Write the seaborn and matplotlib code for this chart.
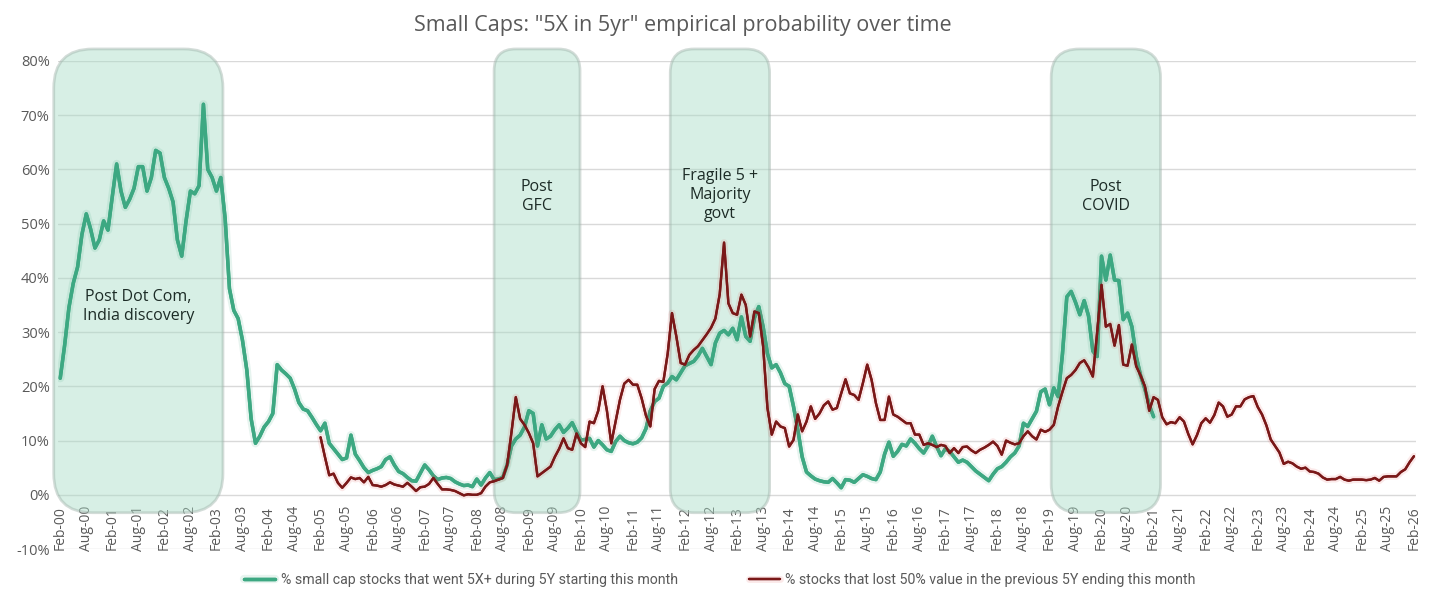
import numpy as np
import pandas as pd
import seaborn as sns
import matplotlib.pyplot as plt
import matplotlib.patheffects as pe
from matplotlib.patches import FancyBboxPatch

# Meses Feb-00 .. Feb-26
meses = pd.date_range("2000-02-01", "2026-02-01", freq="MS")

# % small caps que hicieron 5X+ en los 5 años siguientes (Feb-00 .. Feb-21)
verde = [
    21.5, 27.5, 34.5, 39, 42, 48, 51.8, 49, 45.5, 47, 50.5, 48.8,
    55, 61, 56, 53, 54.5, 56.5, 60.5, 60.5, 56, 58.5, 63.5, 63,
    58.5, 56.5, 54, 47, 44, 50.5, 56, 55.5, 57, 72, 60, 58.5,
    56, 58.5, 51, 38, 34, 32.5, 28.5, 23, 14, 9.5, 10.8, 12.5,
    13.5, 15, 24, 23, 22.3, 21.5, 19.5, 17, 15.8, 15.5, 14.3, 13,
    11.8, 13.2, 9.5, 8.5, 7.5, 6.5, 6.8, 11, 7.5, 6.3, 5, 4.1,
    4.5, 4.8, 5.2, 6.5, 7, 5.5, 4.3, 3.9, 3.2, 2.6, 2.5, 4,
    5.5, 4.6, 3.5, 2.8, 3.1, 3.2, 3, 2.4, 2, 1.7, 1.8, 1.5,
    2.9, 1.8, 3.1, 4.1, 2.8, 2.9, 3.2, 5.5, 9, 10.3, 11, 12.5,
    15.5, 15, 9, 12.9, 10.3, 10.8, 12, 12.9, 11.5, 12.3, 13.3, 11.6,
    10.1, 10.2, 10.4, 8.8, 10, 9.2, 8.3, 8, 9.8, 10.8, 10, 9.6,
    9.4, 9.7, 10.5, 12.2, 15.5, 17.2, 17.8, 20, 20.6, 21.8, 21.2, 22.5,
    23.8, 24.2, 24.6, 25.6, 27, 25.5, 24, 28, 29.8, 30.3, 29.5, 30.7,
    28.6, 32.8, 29.2, 28.3, 32.6, 34.7, 31, 26, 23.4, 24, 22.5, 20.5,
    20, 16.3, 12, 7, 4.2, 3.5, 2.9, 2.6, 2.4, 2.3, 3, 2.2,
    1.3, 2.8, 2.7, 2.3, 3, 3.7, 3.4, 3, 2.8, 4.2, 7.5, 9.7,
    7.1, 8, 9.3, 9, 10.3, 9.5, 8.5, 7.7, 9, 10.8, 8.9, 7.2,
    8.5, 8, 7, 6, 6.4, 6, 5.2, 4.4, 3.8, 3.2, 2.6, 3.8,
    4.8, 5.2, 6, 7, 7.7, 9, 13.2, 12.6, 14, 15.4, 19, 19.5,
    16.6, 19.7, 18.1, 26, 36.5, 37.5, 35.5, 33.2, 35.8, 33, 26.5, 25.5,
    44, 39.6, 44.2, 39.6, 39.5, 32.3, 33.5, 31, 25.5, 22, 19.5, 16.5, 14.4,
]

# % acciones que perdieron 50% en los 5 años previos (Feb-05 .. Feb-26)
rojo = [
    10.6, 7, 3.6, 3.9, 2.2, 1.3, 2.2, 3.2, 2.9, 3.1, 2.3, 3.3,
    1.8, 1.7, 1.5, 1.8, 2.3, 1.9, 1.7, 1.5, 2.2, 1.5, 0.7, 1.4,
    1.5, 2, 3.1, 2, 1, 1, 0.9, 0.7, 0.3, -0.1, 0.1, 0,
    0, 0.3, 1.5, 2.3, 2.5, 2.8, 3.1, 5.5, 11.5, 18, 14, 12.9,
    11.4, 9.5, 3.4, 4, 4.6, 5.2, 7, 8.5, 10.4, 8.6, 8.3, 11.3,
    9.5, 8.8, 13.5, 13.2, 15.5, 20, 15.5, 9.5, 13.5, 17.5, 20.5, 21.2,
    20.3, 20.3, 17.8, 14.6, 12.6, 19.5, 21, 20.8, 26, 33.5, 29.2, 24.3,
    24, 25.8, 26.7, 27.4, 28.5, 29.6, 30.8, 32.5, 37, 46.5, 35.3, 33.5,
    33.2, 36.9, 35, 29.2, 33.8, 33.5, 27.4, 16, 11.1, 13.5, 12.6, 12.3,
    8.9, 10.1, 14.8, 11.7, 13.5, 16.3, 14, 15, 16.5, 17.2, 15.7, 16,
    18.7, 21.3, 18.7, 18.4, 17.5, 20.6, 24, 21.2, 16.9, 13.8, 13.8, 18.1,
    14.8, 14.4, 13.8, 13.2, 13.2, 11.1, 11.1, 9.2, 9.5, 9.2, 8.8, 9.2,
    9, 7.7, 8.6, 7.7, 8.8, 8.9, 8.2, 7.7, 8.3, 8.7, 9.2, 9.8,
    9, 7.4, 10, 9.6, 9.3, 9.5, 10.8, 11.7, 10.8, 10.2, 12, 11.6,
    12, 12.9, 16.3, 19, 21.5, 22.1, 23, 24.3, 24.8, 23.5, 21.8, 30,
    38.7, 31, 31.5, 27.5, 31.3, 24, 23.8, 27.7, 23.7, 22, 20, 15.5,
    18, 17.5, 14.3, 13, 13.4, 13.2, 14.3, 13.5, 11.2, 9.3, 11, 13.2,
    14.1, 13.3, 14.7, 17, 16.3, 14.4, 14.8, 16.3, 16.3, 17.6, 18, 18.2,
    16.2, 14.8, 12.8, 10.2, 9, 7.8, 5.7, 6.1, 5.8, 5.2, 4.8, 5,
    4.3, 4.2, 3.9, 3.2, 2.8, 2.9, 2.9, 3.3, 2.8, 2.6, 2.8, 2.8,
    2.8, 2.7, 2.8, 3.1, 2.6, 3.3, 3.4, 3.4, 3.4, 4.2, 4.7, 6, 7.1,
]
inicio_rojo = 60  # Feb-05

# Periodos resaltados: (mes inicial, mes final, texto, y del texto)
periodos = [
    (-1.5, 37.5, "Post Dot Com,\nIndia discovery", 34.7),
    (100.0, 119.8, "Post\nGFC", 55.0),
    (140.6, 163.5, "Fragile 5 +\nMajority\ngovt", 55.3),
    (228.4, 253.6, "Post\nCOVID", 55.0),
]
radios = [9, 5, 5.5, 6.5]

nombre_verde = "% small cap stocks that went 5X+ during 5Y starting this month"
nombre_rojo = "% stocks that lost 50% value in the previous 5Y ending this month"
col_verde = "#3da882"
col_rojo = "#7a1818"
gris = "#595959"

df_v = pd.DataFrame({"mes": np.arange(len(verde)), "valor": verde})
df_r = pd.DataFrame({"mes": np.arange(inicio_rojo, inicio_rojo + len(rojo)), "valor": rojo})

sns.set_theme(style="white")
plt.rcParams["font.family"] = ["Open Sans", "DejaVu Sans"]

fig = plt.figure(figsize=(14.34, 6.06), dpi=100)
ax = fig.add_axes([0.0405, 0.094, 0.947, 0.8055])

# cajas redondeadas
aspecto = 4.34 / 5.425
for (x0, x1, texto, ty), r in zip(periodos, radios):
    caja = FancyBboxPatch((x0, -3.3), x1 - x0, 85.5,
                          boxstyle=f"round,pad=0,rounding_size={r}",
                          mutation_aspect=aspecto,
                          facecolor="#a8dcc6", alpha=0.45,
                          edgecolor="#9fb3aa", linewidth=2.0,
                          clip_on=False, zorder=1)
    ax.add_patch(caja)
    ax.text((x0 + x1) / 2, ty, texto, ha="center", va="center",
            fontsize=11.5, color="#1c2b26", linespacing=1.25, zorder=5)

sns.lineplot(data=df_v, x="mes", y="valor", ax=ax, color=col_verde,
             linewidth=2.5, label=nombre_verde, zorder=3)
sns.lineplot(data=df_r, x="mes", y="valor", ax=ax, color=col_rojo,
             linewidth=1.7, label=nombre_rojo, zorder=4)
ax.lines[0].set_path_effects([pe.withStroke(linewidth=6, foreground=col_verde, alpha=0.12), pe.Normal()])
ax.lines[1].set_path_effects([pe.withStroke(linewidth=5, foreground="#e05050", alpha=0.12), pe.Normal()])

# eje x cruzando en 0% (antes de fijar ticks, porque reinicia el eje)
ax.spines["bottom"].set_position(("data", 0))
for s in ax.spines.values():
    s.set_visible(False)

ax.set_xlim(-0.5, len(meses) - 0.5)
ax.set_ylim(-10, 80)
ax.set_yticks(np.arange(-10, 81, 10))
ax.set_yticklabels([f"{v}%" for v in range(-10, 81, 10)], color=gris, fontsize=10.5)
ax.yaxis.grid(True, color="#d9d9d9", linewidth=1)
ax.set_axisbelow(True)

pos = np.arange(0, len(meses), 6)
ax.set_xticks(pos)
ax.set_xticklabels(meses[pos].strftime("%b-%y"), rotation=90, color=gris, fontsize=10)
ax.tick_params(axis="both", length=0)
ax.tick_params(axis="x", pad=8)
ax.tick_params(axis="y", pad=6)
ax.set_xlabel("")
ax.set_ylabel("")

ax.get_legend().remove()
h, l = ax.get_legend_handles_labels()
fig.legend(h, l, loc="center", bbox_to_anchor=(0.502, 0.043), ncol=2, frameon=False,
           labelcolor=gris, columnspacing=5, handlelength=2.2, handletextpad=0.4,
           prop={"family": "Roboto", "size": 10.2})

fig.text(0.476, 0.958, 'Small Caps: "5X in 5yr" empirical probability over time',
         ha="center", va="center", fontsize=15.5, color=gris)

plt.savefig("out.png", dpi=100)
